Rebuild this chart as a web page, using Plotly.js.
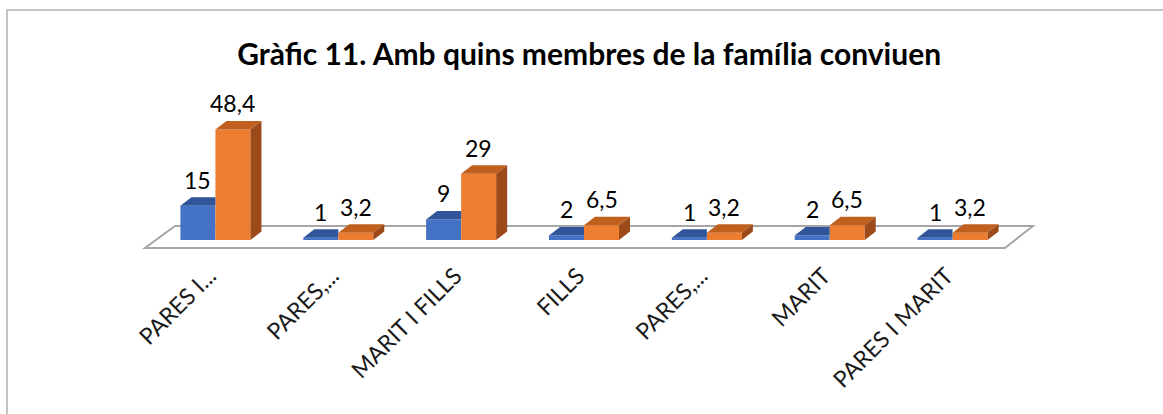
<!DOCTYPE html>
<html>
<head>
<meta charset="utf-8">
<script src="https://cdn.plot.ly/plotly-3.0.1.min.js"></script>
<style>html,body{margin:0;padding:0;background:#fff;}#chart{width:1163px;height:414px;}</style>
</head>
<body>
<div id="chart"></div>
<script>
// ---- data ----
var categories = ["PARES I...", "PARES,...", "MARIT I FILLS", "FILLS", "PARES,...", "MARIT", "PARES I MARIT"];
var seriesA = [15, 1, 9, 2, 1, 2, 1];            // blue
var seriesB = [48.4, 3.2, 29, 6.5, 3.2, 6.5, 3.2]; // orange
var labelsA = ["15", "1", "9", "2", "1", "2", "1"];
var labelsB = ["48,4", "3,2", "29", "6,5", "3,2", "6,5", "3,2"];
var titleText = "Gràfic 11. Amb quins membres de la família conviuen";

// ---- layout geometry ----
var W = 1163, H = 414;
var mL = 154, mR = 149, mT = 103, mB = 174;
var plotW = W - mL - mR, plotH = H - mT - mB;
var yMax = 60;
var pxPerX = plotW / 7, pxPerY = plotH / yMax;
var barW = 0.285;
var dX = 11 / pxPerX, dY = 8.5 / pxPerY;   // depth offsets in data units

var idx = categories.map(function (c, i) { return i; });
var xA = idx.map(function (i) { return i - barW / 2; });
var xB = idx.map(function (i) { return i + barW / 2; });

function topFaces(xc, vals, clipRight) {
  var xs = [], ys = [];
  xc.forEach(function (c, i) {
    var x0 = c - barW / 2, x1 = c + barW / 2, v = vals[i];
    if (clipRight) {
      xs.push(x0, x1, x1, x0 + dX, null); ys.push(v, v, v + dY, v + dY, null);
    } else {
      xs.push(x0, x1, x1 + dX, x0 + dX, null); ys.push(v, v, v + dY, v + dY, null);
    }
  });
  return {x: xs, y: ys};
}
function sideFaces(xc, vals) {
  var xs = [], ys = [];
  xc.forEach(function (c, i) {
    var x1 = c + barW / 2, v = vals[i];
    xs.push(x1, x1, x1 + dX, x1 + dX, null); ys.push(0, v, v + dY, dY, null);
  });
  return {x: xs, y: ys};
}
var tA = topFaces(xA, seriesA, true);
var tB = topFaces(xB, seriesB, false);
var sB = sideFaces(xB, seriesB);

var blue = "#4472C4", blueTop = "#30559a";
var orange = "#ED7D31", orangeTop = "#c0601f", orangeSide = "#9c4a1a";

var traces = [
  {type: "bar", x: idx, y: seriesA, width: barW, offset: -barW, marker: {color: blue}, hoverinfo: "skip", showlegend: false},
  {type: "bar", x: idx, y: seriesB, width: barW, offset: 0, marker: {color: orange}, hoverinfo: "skip", showlegend: false},
  {type: "scatter", mode: "lines", x: tA.x, y: tA.y, fill: "toself", fillcolor: blueTop, line: {width: 0}, hoverinfo: "skip", showlegend: false},
  {type: "scatter", mode: "lines", x: tB.x, y: tB.y, fill: "toself", fillcolor: orangeTop, line: {width: 0}, hoverinfo: "skip", showlegend: false},
  {type: "scatter", mode: "lines", x: sB.x, y: sB.y, fill: "toself", fillcolor: orangeSide, line: {width: 0}, hoverinfo: "skip", showlegend: false}
];

var font = "Lato, 'Open Sans', sans-serif";
var annotations = [];
idx.forEach(function (i) {
  annotations.push({x: xA[i], y: seriesA[i], xref: "x", yref: "y", text: labelsA[i], showarrow: false,
    yanchor: "bottom", yshift: 10, font: {family: font, size: 23, color: "#000"}});
  annotations.push({x: xB[i], y: seriesB[i], xref: "x", yref: "y", text: labelsB[i], showarrow: false,
    yanchor: "bottom", yshift: 10, font: {family: font, size: 23, color: "#000"}});
});

function px2paperX(px) { return (px - mL) / plotW; }
function px2paperY(py) { return (H - mB - py) / plotH; }
var floorPts = [[145, 248], [1005, 248], [1033, 226], [175, 226]];
var floorPath = floorPts.map(function (p, k) {
  return (k === 0 ? "M" : "L") + px2paperX(p[0]).toFixed(4) + "," + px2paperY(p[1]).toFixed(4);
}).join(" ") + " Z";

var layout = {
  width: W, height: H,
  margin: {l: mL, r: mR, t: mT, b: mB, pad: 0},
  paper_bgcolor: "#fff", plot_bgcolor: "rgba(0,0,0,0)",
  showlegend: false,
  title: {text: "<b>" + titleText + "</b>", font: {family: font, size: 30, color: "#000"},
    x: 0.506, xanchor: "center", y: 1 - 54 / H, yanchor: "middle", xref: "paper", yref: "container"},
  xaxis: {range: [-0.5, 6.5], tickvals: idx, ticktext: categories, tickangle: -45,
    showgrid: false, zeroline: false, showline: false, ticks: "", ticklabelstandoff: 17, ticklabelshift: -6,
    tickfont: {family: font, size: 23, color: "#1a1a1a"}, fixedrange: true},
  yaxis: {range: [0, yMax], visible: false, showgrid: false, zeroline: false, fixedrange: true},
  annotations: annotations,
  shapes: [
    {type: "path", xref: "paper", yref: "paper", path: floorPath, layer: "below",
      line: {color: "#a6a6a6", width: 2}, fillcolor: "#fff"},
    {type: "rect", xref: "paper", yref: "paper", layer: "below",
      x0: px2paperX(7), x1: px2paperX(1200), y0: px2paperY(450), y1: px2paperY(10),
      line: {color: "#b0b0b0", width: 1.5}, fillcolor: "rgba(0,0,0,0)"}
  ]
};

Plotly.newPlot("chart", traces, layout, {displayModeBar: false, staticPlot: true});
</script>
</body>
</html>
